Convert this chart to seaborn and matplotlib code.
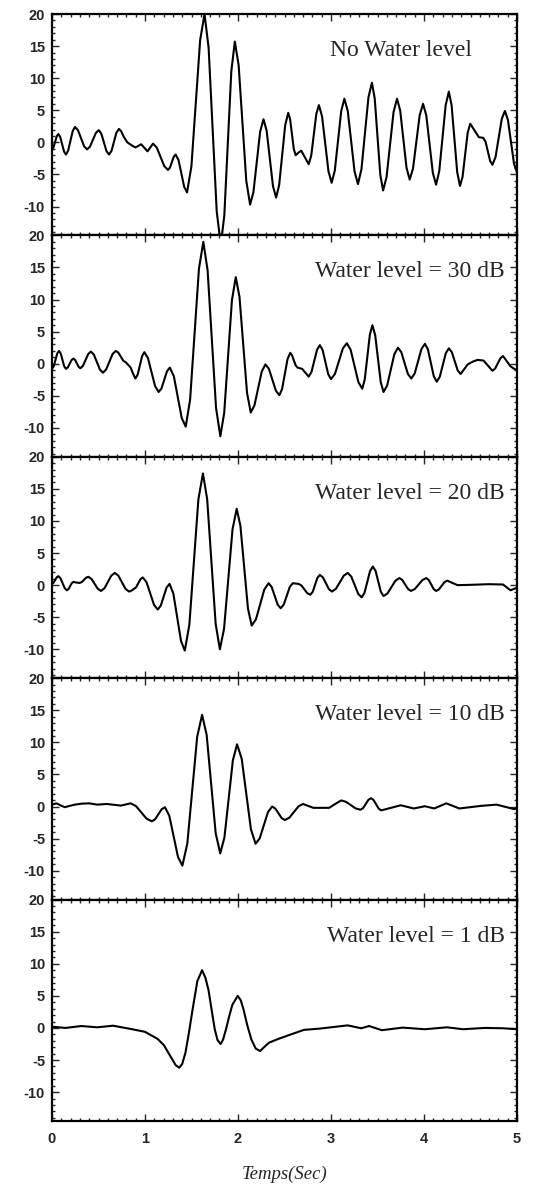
import numpy as np
import pandas as pd
import matplotlib
matplotlib.use("Agg")
import matplotlib.pyplot as plt
from matplotlib.ticker import MultipleLocator
import seaborn as sns

# ---------------- data: (time s, amplitude) ----------------
labels = ["No Water level", "Water level = 30 dB", "Water level = 20 dB",
          "Water level = 10 dB", "Water level = 1 dB"]

pts_nowl = [
    (0.000, -1.1), (0.017, -0.75), (0.034, 0.1), (0.051, 0.95), (0.068, 1.3),
    (0.0885, 0.83), (0.109, -0.3), (0.1295, -1.43), (0.150, -1.9), (0.174, -1.27),
    (0.1985, 0.25), (0.223, 1.77), (0.247, 2.4), (0.2795, 1.89), (0.312, 0.65),
    (0.3445, -0.59), (0.377, -1.1), (0.4085, -0.66), (0.440, 0.4), (0.4715, 1.46),
    (0.503, 1.9), (0.5305, 1.35), (0.558, 0.0), (0.5855, -1.35), (0.613, -1.9),
    (0.640, -1.32), (0.6665, 0.1), (0.693, 1.52), (0.720, 2.1), (0.745, 1.7),
    (0.770, 0.9), (0.810, 0.0), (0.855, -0.45), (0.897, -0.8), (0.928, -0.55),
    (0.959, -0.3), (0.993, -0.85), (1.027, -1.4), (1.0565, -0.8), (1.086, -0.2),
    (1.126, -0.8), (1.1665, -2.25), (1.207, -3.7), (1.247, -4.3), (1.268, -3.95),
    (1.2885, -3.1), (1.309, -2.25), (1.330, -1.9), (1.3605, -2.76), (1.391, -4.85),
    (1.4215, -6.94), (1.452, -7.8), (1.499, -3.74), (1.546, 6.1), (1.593, 15.94),
    (1.640, 20.0), (1.684, 14.74), (1.7275, 2.0), (1.771, -10.74), (1.815, -16.0),
    (1.853, -11.37), (1.8905, -0.15), (1.928, 11.07), (1.966, 15.7), (2.007, 11.99),
    (2.048, 3.0), (2.089, -5.99), (2.130, -9.7), (2.166, -7.76), (2.202, -3.05),
    (2.238, 1.66), (2.274, 3.6), (2.308, 1.82), (2.342, -2.5), (2.376, -6.82),
    (2.410, -8.6), (2.4425, -6.67), (2.475, -2.0), (2.5075, 2.67), (2.540, 4.6),
    (2.560, 3.64), (2.580, 1.3), (2.600, -1.04), (2.620, -2.0), (2.650, -1.6),
    (2.680, -1.3), (2.720, -2.35), (2.760, -3.4), (2.7875, -2.06), (2.815, 1.2),
    (2.8425, 4.46), (2.870, 5.8), (2.904, 4.03), (2.9385, -0.25), (2.973, -4.53),
    (3.007, -6.3), (3.041, -4.39), (3.0755, 0.25), (3.110, 4.89), (3.144, 6.8),
    (3.1805, 4.86), (3.217, 0.15), (3.2535, -4.56), (3.290, -6.5), (3.3275, -4.19),
    (3.365, 1.4), (3.4025, 6.99), (3.440, 9.3), (3.470, 6.85), (3.500, 0.9),
    (3.530, -5.05), (3.560, -7.5), (3.5975, -5.41), (3.635, -0.35), (3.6725, 4.71),
    (3.710, 6.8), (3.744, 4.96), (3.778, 0.5), (3.812, -3.96), (3.846, -5.8),
    (3.882, -4.08), (3.918, 0.1), (3.954, 4.28), (3.990, 6.0), (4.025, 4.16),
    (4.060, -0.3), (4.095, -4.76), (4.130, -6.6), (4.164, -4.48), (4.1985, 0.65),
    (4.233, 5.78), (4.267, 7.9), (4.297, 5.75), (4.327, 0.55), (4.357, -4.65),
    (4.387, -6.8), (4.4145, -5.38), (4.442, -1.95), (4.4695, 1.48), (4.497, 2.9),
    (4.5435, 1.85), (4.590, 0.8), (4.637, 0.7), (4.662, 0.09), (4.6865, -1.4),
    (4.711, -2.89), (4.736, -3.5), (4.7695, -2.27), (4.803, 0.7), (4.8365, 3.67),
    (4.870, 4.9), (4.9025, 3.5), (4.935, 0.1), (4.9675, -3.3), (5.000, -4.7)]

pts_30 = [
    (0.0, -0.8), (0.019, -0.39), (0.0375, 0.6), (0.056, 1.59), (0.075, 2.0),
    (0.094, 1.59), (0.1125, 0.6), (0.131, -0.39), (0.15, -0.8), (0.17, -0.57),
    (0.19, 0.0), (0.21, 0.57), (0.23, 0.8), (0.249, 0.58), (0.2675, 0.05),
    (0.286, -0.48), (0.305, -0.7), (0.333, -0.32), (0.3615, 0.6), (0.39, 1.52),
    (0.418, 1.9), (0.4505, 1.42), (0.483, 0.25), (0.5155, -0.92), (0.548, -1.4),
    (0.582, -0.9), (0.6165, 0.3), (0.651, 1.5), (0.685, 2.0), (0.7125, 1.74),
    (0.74, 1.1), (0.7675, 0.46), (0.795, 0.2), (0.82, -0.2), (0.846, -0.6),
    (0.87, -1.5), (0.897, -2.3), (0.921, -1.7), (0.945, -0.25), (0.969, 1.2),
    (0.993, 1.8), (1.0315, 0.89), (1.07, -1.3), (1.1085, -3.49), (1.147, -4.4),
    (1.177, -3.85), (1.207, -2.5), (1.237, -1.15), (1.267, -0.6), (1.31, -1.94),
    (1.3525, -5.2), (1.395, -8.46), (1.438, -9.8), (1.485, -5.6), (1.5325, 4.6),
    (1.58, 14.8), (1.627, 19.0), (1.673, 14.58), (1.7185, 3.85), (1.764, -6.88),
    (1.81, -11.3), (1.8515, -7.68), (1.893, 1.1), (1.9345, 9.88), (1.976, 13.5),
    (2.016, 10.42), (2.0565, 2.95), (2.097, -4.52), (2.137, -7.6), (2.1765, -6.5),
    (2.216, -3.85), (2.2555, -1.2), (2.295, -0.1), (2.3325, -0.8), (2.37, -2.5),
    (2.4075, -4.2), (2.445, -4.9), (2.474, -3.94), (2.5035, -1.6), (2.533, 0.74),
    (2.562, 1.7), (2.58, 1.35), (2.60, 0.55), (2.62, -0.25), (2.64, -0.6),
    (2.69, -0.8), (2.725, -1.4), (2.76, -2.0), (2.79, -1.28), (2.82, 0.45),
    (2.85, 2.18), (2.88, 2.9), (2.91, 2.13), (2.94, 0.25), (2.97, -1.63),
    (3.0, -2.4), (3.0425, -1.58), (3.085, 0.4), (3.1275, 2.38), (3.17, 3.2),
    (3.2115, 2.16), (3.253, -0.35), (3.2945, -2.86), (3.336, -3.9), (3.363, -2.45),
    (3.3905, 1.05), (3.418, 4.55), (3.445, 6.0), (3.475, 4.48), (3.505, 0.8),
    (3.535, -2.88), (3.565, -4.4), (3.604, -3.39), (3.6425, -0.95), (3.681, 1.49),
    (3.72, 2.5), (3.756, 1.8), (3.7915, 0.1), (3.827, -1.6), (3.863, -2.3),
    (3.90, -1.51), (3.9365, 0.4), (3.973, 2.31), (4.01, 3.1), (4.042, 2.24),
    (4.0735, 0.15), (4.105, -1.94), (4.137, -2.8), (4.1695, -2.04), (4.202, -0.2),
    (4.2345, 1.64), (4.267, 2.4), (4.299, 1.82), (4.3305, 0.4), (4.362, -1.02),
    (4.394, -1.6), (4.432, -0.85), (4.47, -0.1), (4.52, 0.3), (4.575, 0.6),
    (4.64, 0.5), (4.688, -0.3), (4.736, -1.1), (4.7645, -0.76), (4.793, 0.05),
    (4.8215, 0.86), (4.85, 1.2), (4.89, 0.4), (4.93, -0.4), (4.965, -0.75),
    (5.0, -1.0)]

pts_20 = [
    (0.0, 0.2), (0.017, 0.38), (0.034, 0.8), (0.051, 1.22), (0.068, 1.4),
    (0.091, 1.08), (0.114, 0.3), (0.137, -0.48), (0.16, -0.8), (0.1775, -0.61),
    (0.195, -0.15), (0.2125, 0.31), (0.23, 0.5), (0.264, 0.4), (0.298, 0.35),
    (0.321, 0.49), (0.344, 0.83), (0.367, 1.16), (0.39, 1.3), (0.424, 0.98),
    (0.4585, 0.2), (0.493, -0.58), (0.527, -0.9), (0.564, -0.49), (0.601, 0.5),
    (0.638, 1.49), (0.675, 1.9), (0.7135, 1.48), (0.752, 0.45), (0.7905, -0.58),
    (0.829, -1.0), (0.855, -0.85), (0.88, -0.6), (0.904, -0.34), (0.928, 0.3),
    (0.952, 0.94), (0.976, 1.2), (1.016, 0.47), (1.0565, -1.3), (1.097, -3.07),
    (1.137, -3.8), (1.169, -3.22), (1.2005, -1.8), (1.232, -0.38), (1.264, 0.2),
    (1.305, -1.32), (1.346, -5.0), (1.387, -8.68), (1.428, -10.2), (1.477, -6.17),
    (1.5255, 3.6), (1.574, 13.37), (1.623, 17.4), (1.6685, 13.4), (1.714, 3.7),
    (1.7595, -6.0), (1.805, -10.0), (1.85, -6.8), (1.8955, 0.95), (1.941, 8.7),
    (1.986, 11.9), (2.026, 9.24), (2.0665, 2.8), (2.107, -3.64), (2.147, -6.3),
    (2.1925, -5.34), (2.238, -3.0), (2.2835, -0.66), (2.329, 0.3), (2.3615, -0.27),
    (2.394, -1.65), (2.4265, -3.03), (2.459, -3.6), (2.492, -3.03), (2.5245, -1.65),
    (2.557, -0.27), (2.59, 0.3), (2.65, 0.2), (2.682, -0.05), (2.7135, -0.65),
    (2.745, -1.25), (2.777, -1.5), (2.803, -1.05), (2.8285, 0.05), (2.854, 1.15),
    (2.88, 1.6), (2.9125, 1.22), (2.945, 0.3), (2.9775, -0.62), (3.01, -1.0),
    (3.0525, -0.58), (3.095, 0.45), (3.1375, 1.48), (3.18, 1.9), (3.2175, 1.35),
    (3.255, 0.0), (3.2925, -1.35), (3.33, -1.9), (3.36, -1.2), (3.39, 0.5),
    (3.42, 2.2), (3.45, 2.9), (3.479, 2.23), (3.5075, 0.6), (3.536, -1.03),
    (3.565, -1.7), (3.6075, -1.29), (3.65, -0.3), (3.6925, 0.69), (3.735, 1.1),
    (3.766, 0.81), (3.7975, 0.1), (3.829, -0.61), (3.86, -0.9), (3.901, -0.61),
    (3.9425, 0.1), (3.984, 0.81), (4.025, 1.1), (4.051, 0.81), (4.0775, 0.1),
    (4.104, -0.61), (4.13, -0.9), (4.16, -0.67), (4.19, -0.1), (4.22, 0.47),
    (4.25, 0.7), (4.305, 0.35), (4.36, 0.0), (4.5, 0.05), (4.7, 0.15),
    (4.85, 0.1), (4.89, -0.35), (4.93, -0.8), (4.965, -0.6), (5.0, -0.4)]

pts_10 = [
    (0.0, 0.3), (0.048, 0.5), (0.09, 0.2), (0.137, -0.1), (0.19, 0.1),
    (0.246, 0.3), (0.32, 0.45), (0.4, 0.5), (0.486, 0.3), (0.588, 0.4),
    (0.742, 0.15), (0.80, 0.35), (0.845, 0.5), (0.902, 0.09), (0.9595, -0.9),
    (1.017, -1.89), (1.074, -2.3), (1.109, -1.98), (1.144, -1.2), (1.179, -0.42),
    (1.214, -0.1), (1.261, -1.43), (1.308, -4.65), (1.355, -7.87), (1.402, -9.2),
    (1.455, -5.77), (1.508, 2.55), (1.561, 10.87), (1.614, 14.3), (1.663, 11.15),
    (1.7115, 3.5), (1.76, -4.15), (1.809, -7.3), (1.854, -4.82), (1.8995, 1.2),
    (1.945, 7.22), (1.99, 9.7), (2.04, 7.44), (2.0895, 1.95), (2.139, -3.54),
    (2.189, -5.8), (2.2335, -4.95), (2.278, -2.9), (2.3225, -0.85), (2.367, 0.0),
    (2.401, -0.31), (2.435, -1.05), (2.469, -1.79), (2.503, -2.1), (2.552, -1.74),
    (2.6015, -0.85), (2.651, 0.04), (2.70, 0.4), (2.81, -0.2), (2.98, -0.2),
    (3.045, 0.4), (3.11, 0.95), (3.16, 0.74), (3.2135, 0.22), (3.265, -0.29),
    (3.317, -0.5), (3.345, -0.24), (3.3735, 0.4), (3.402, 1.04), (3.43, 1.3),
    (3.4575, 1.02), (3.485, 0.35), (3.5125, -0.32), (3.54, -0.6), (3.645, -0.2),
    (3.75, 0.2), (3.89, -0.3), (4.01, 0.05), (4.11, -0.3), (4.175, 0.1),
    (4.24, 0.5), (4.31, 0.1), (4.38, -0.3), (4.61, 0.1), (4.78, 0.3),
    (4.97, -0.4), (5.0, -0.3)]

pts_1 = [
    (0.0, 0.2), (0.144, 0.0), (0.315, 0.3), (0.486, 0.1), (0.657, 0.35),
    (0.862, -0.2), (0.999, -0.6), (1.135, -1.7), (1.204, -2.7), (1.289, -4.8),
    (1.33, -5.8), (1.368, -6.2), (1.40, -5.6), (1.436, -3.8), (1.475, -0.5),
    (1.512, 2.9), (1.563, 7.3), (1.614, 9.0), (1.65, 7.8), (1.683, 5.9),
    (1.72, 2.5), (1.75, -0.2), (1.78, -1.9), (1.813, -2.5), (1.84, -1.8),
    (1.871, -0.2), (1.905, 1.8), (1.939, 3.6), (1.997, 5.0), (2.03, 4.3),
    (2.059, 2.9), (2.10, 0.4), (2.144, -1.8), (2.19, -3.2), (2.237, -3.6),
    (2.28, -3.0), (2.333, -2.3), (2.435, -1.7), (2.57, -1.0), (2.709, -0.3),
    (2.88, -0.1), (3.12, 0.3), (3.18, 0.4), (3.325, -0.05), (3.41, 0.3),
    (3.546, -0.35), (3.77, 0.05), (4.01, -0.2), (4.247, 0.1), (4.42, -0.2),
    (4.65, 0.0), (4.85, -0.05), (5.0, -0.2)]

series = [pts_nowl, pts_30, pts_20, pts_10, pts_1]
x_ticks = [0, 1, 2, 3, 4, 5]
y_ticks = [-10, -5, 0, 5, 10, 15, 20]
x_label = "Temps(Sec)"

# ---------------- figure ----------------
sns.set_style("ticks")
plt.rcParams["font.family"] = ["Liberation Sans", "DejaVu Sans"]
serif = ["Liberation Serif", "DejaVu Serif"]

W, H = 542, 1191
fig = plt.figure(figsize=(W / 100, H / 100), dpi=100)
left, right = 52 / W, 517 / W
top_px, bot_px = 14, 1121
n = len(labels)
ph = (bot_px - top_px) / n
label_x = [4.52, 4.87, 4.87, 4.87, 4.87]

for i in range(n):
    y0 = 1 - (top_px + (i + 1) * ph) / H
    ax = fig.add_axes([left, y0, right - left, ph / H])
    df = pd.DataFrame(series[i], columns=["t", "v"])
    sns.lineplot(data=df, x="t", y="v", ax=ax, color="black", linewidth=1.5,
                 estimator=None, sort=False)
    ax.set_xlim(0, 5)
    ax.set_ylim(-14.5, 20)
    ax.set_yticks(y_ticks)
    ax.set_yticklabels([str(v) for v in y_ticks], fontweight="bold", fontsize=10.5)
    ax.set_xticks(x_ticks)
    ax.xaxis.set_minor_locator(MultipleLocator(0.1))
    ax.yaxis.set_minor_locator(MultipleLocator(1))
    ax.tick_params(which="both", direction="in", top=True, right=True,
                   bottom=True, left=True, width=1.0)
    ax.tick_params(which="major", length=5, pad=5)
    ax.tick_params(which="minor", length=2.5)
    for s in ax.spines.values():
        s.set_linewidth(1.6)
        s.set_color("black")
    ax.set_ylabel("")
    ax.set_xlabel("")
    ax.text(label_x[i], 14.3, labels[i], ha="right", va="center",
            fontsize=17, family=serif)
    if i < n - 1:
        ax.tick_params(labelbottom=False)
    else:
        ax.set_xticklabels([str(v) for v in x_ticks], fontweight="bold", fontsize=10.5)
        ax.tick_params(axis="x", which="major", pad=8)
        ax.set_xlabel(x_label, fontsize=13.5, fontstyle="italic",
                      family=serif, labelpad=14)

fig.savefig("out.png", dpi=100)
